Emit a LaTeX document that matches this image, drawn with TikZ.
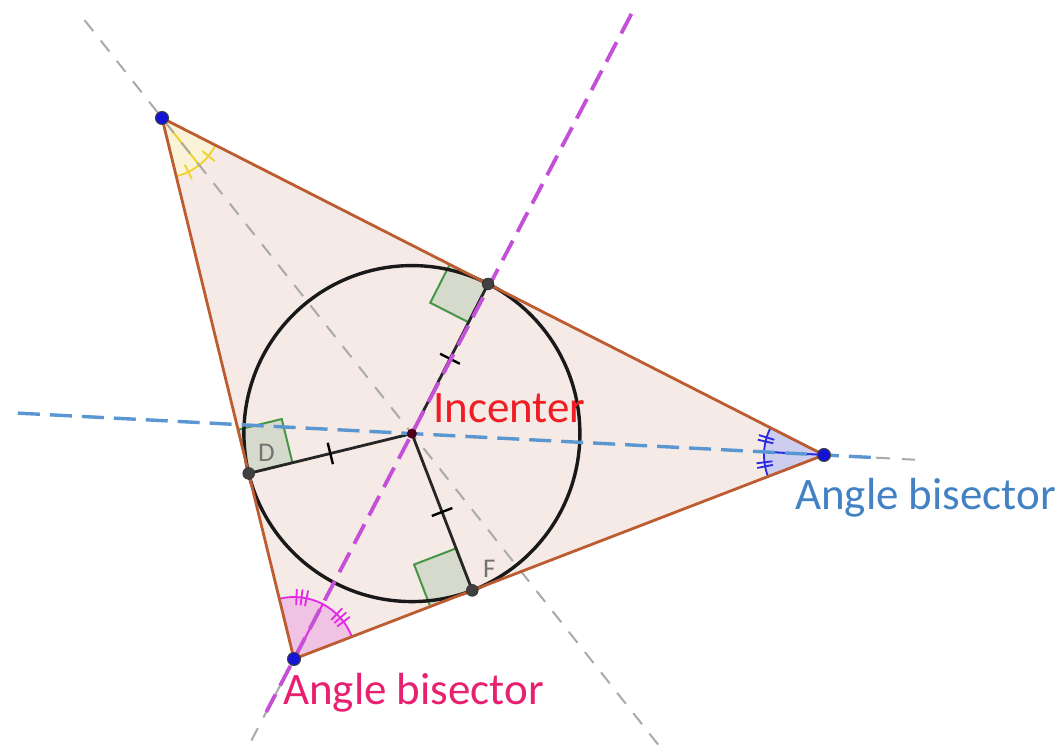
\documentclass[tikz,border=0pt]{standalone}
\usepackage{fontspec}
\setmainfont{Carlito}
\usetikzlibrary{calc}
\definecolor{trifill}{RGB}{245,234,229}
\definecolor{edgecol}{RGB}{188,92,48}
\definecolor{grayline}{RGB}{170,170,170}
\definecolor{bisblueline}{RGB}{90,150,210}
\definecolor{purpline}{RGB}{195,80,215}
\definecolor{bisblue}{RGB}{66,130,196}
\definecolor{bispink}{RGB}{232,32,112}
\definecolor{incred}{RGB}{238,30,36}
\definecolor{sqfill}{RGB}{214,218,204}
\definecolor{sqedge}{RGB}{70,150,70}
\definecolor{vblue}{RGB}{20,20,215}
\definecolor{yelfill}{RGB}{250,243,215}
\definecolor{yeledge}{RGB}{240,210,40}
\definecolor{blufill}{RGB}{205,205,240}
\definecolor{bluedge}{RGB}{40,40,230}
\definecolor{pnkfill}{RGB}{240,195,228}
\definecolor{pnkedge}{RGB}{228,40,228}
\begin{document}
\begin{tikzpicture}[x=1pt,y=1pt,
  grayd/.style={draw=grayline, line width=2pt, dash pattern=on 14pt off 12pt},
  blued/.style={draw=bisblueline, line width=3.4pt, dash pattern=on 22pt off 10pt},
  purpd/.style={draw=purpline, line width=3.8pt, dash pattern=on 22pt off 10pt},
  sectA/.style={fill=yelfill, draw=yeledge, line width=1.8pt},
  sectB/.style={fill=blufill, draw=bluedge, line width=1.8pt},
  sectC/.style={fill=pnkfill, draw=pnkedge, line width=1.8pt},
  rightsq/.style={fill=sqfill, draw=sqedge, line width=2pt},
  vtx/.style={circle, fill=vblue, draw=black!75, line width=1pt, inner sep=0pt, minimum size=13pt},
  tpt/.style={circle, fill=black!75, draw=black!85, inner sep=0pt, minimum size=12pt},
  ipt/.style={circle, fill=black!60!purple, inner sep=0pt, minimum size=10pt},
  bigtxt/.style={font=\fontsize{45}{54}\selectfont, inner sep=0pt, anchor=base west},
  smtxt/.style={font=\fontsize{27}{32}\selectfont, text=black!55, inner sep=0pt, anchor=base west},
  radtick/.style={draw=black, line width=2.4pt}
]
\useasboundingbox (0,0) rectangle (1063,751);
\fill[white] (0,0) rectangle (1063,751);

\coordinate (A) at (162,633);
\coordinate (B) at (824,296);
\coordinate (C) at (294,92);
\coordinate (I) at (411.9,317.4);
\coordinate (T) at ($(A)!(I)!(B)$);
\coordinate (F) at ($(B)!(I)!(C)$);
\coordinate (D) at ($(C)!(I)!(A)$);

% triangle fill
\fill[trifill] (A) -- (B) -- (C) -- cycle;

% angle sectors
\filldraw[sectA] (A) -- ++(-76.29:60) arc[start angle=-76.29, end angle=-51.63, radius=60] -- cycle;
\filldraw[sectA] (A) -- ++(-51.63:60) arc[start angle=-51.63, end angle=-26.98, radius=60] -- cycle;
\draw[yeledge, line width=1.8pt] ($(A)+(-63.96:52)$) -- ($(A)+(-63.96:68)$);
\draw[yeledge, line width=1.8pt] ($(A)+(-39.30:52)$) -- ($(A)+(-39.30:68)$);

\filldraw[sectB] (B) -- ++(153.02:60) arc[start angle=153.02, end angle=177.03, radius=60] -- cycle;
\filldraw[sectB] (B) -- ++(177.03:60) arc[start angle=177.03, end angle=201.05, radius=60] -- cycle;
\foreach \a in {163.0,167.0,187.0,191.0}
  \draw[bluedge, line width=1.8pt] ($(B)+(\a:52)$) -- ($(B)+(\a:68)$);

\filldraw[sectC] (C) -- ++(21.05:62) arc[start angle=21.05, end angle=62.38, radius=62] -- cycle;
\filldraw[sectC] (C) -- ++(62.38:62) arc[start angle=62.38, end angle=103.71, radius=62] -- cycle;
\foreach \a in {37.0,41.7,46.4,78.3,83.0,87.7}
  \draw[pnkedge, line width=1.8pt] ($(C)+(\a:54)$) -- ($(C)+(\a:70)$);

% right-angle markers
\coordinate (Ta) at ($(T)!43pt!(A)$);
\coordinate (Ti) at ($(T)!43pt!(I)$);
\draw[rightsq] (T) -- (Ta) -- ($(Ta)+(Ti)-(T)$) -- (Ti) -- cycle;
\coordinate (Da) at ($(D)!45pt!(A)$);
\coordinate (Di) at ($(D)!45pt!(I)$);
\draw[rightsq] (D) -- (Da) -- ($(Da)+(Di)-(D)$) -- (Di) -- cycle;
\coordinate (Fc) at ($(F)!45pt!(C)$);
\coordinate (Fi) at ($(F)!45pt!(I)$);
\draw[rightsq] (F) -- (Fc) -- ($(Fc)+(Fi)-(F)$) -- (Fi) -- cycle;

% gray bisector from A
\draw[grayd] ($(A)!-0.31!(I)$) -- ($(A)!1.986!(I)$);

% incircle
\draw[black!90, line width=3.4pt] (I) circle[radius=168];

% triangle edges
\draw[edgecol, line width=2.8pt, line join=round] (A) -- (B) -- (C) -- cycle;

% radii with ticks
\draw[black!85, line width=2.8pt] (I) -- (T);
\draw[black!85, line width=2.8pt] (I) -- (D);
\draw[black!85, line width=2.8pt] (I) -- (F);
\draw[radtick] ($($(I)!0.5!(T)$)!11pt!90:(T)$) -- ($($(I)!0.5!(T)$)!11pt!-90:(T)$);
\draw[radtick] ($($(I)!0.5!(D)$)!11pt!90:(D)$) -- ($($(I)!0.5!(D)$)!11pt!-90:(D)$);
\draw[radtick] ($($(I)!0.5!(F)$)!11pt!90:(F)$) -- ($($(I)!0.5!(F)$)!11pt!-90:(F)$);

% blue bisector from B
\draw[grayd] (B) -- ($(B)!-0.221!(I)$);
\draw[blued] ($(B)!1.956!(I)$) -- ($(B)!-0.136!(I)$);

% purple bisector from C
\draw[grayd] (C) -- ($(C)!-0.381!(I)$);
\draw[purpd] ($(C)!2.862!(I)$) -- ($(C)!-0.235!(I)$);

% points
\node[vtx] (pA) at (A) {};
\node[vtx] (pB) at (B) {};
\node[vtx] (pC) at (C) {};
\node[tpt] (pT) at (T) {};
\node[tpt] (pD) at (D) {};
\node[tpt] (pF) at (F) {};
\node[ipt] (pI) at (I) {};

% labels
\node[smtxt] (lD) at (258,289) {D};
\node[smtxt] (lF) at (483,173) {F};
\node[bigtxt, text=incred] (lInc) at (433,328) {Incenter};
\node[bigtxt, text=bisblue] (lbB) at (795,241) {Angle bisector};
\node[bigtxt, text=bispink] (lbC) at (283,46) {Angle bisector};
\end{tikzpicture}
\end{document}
